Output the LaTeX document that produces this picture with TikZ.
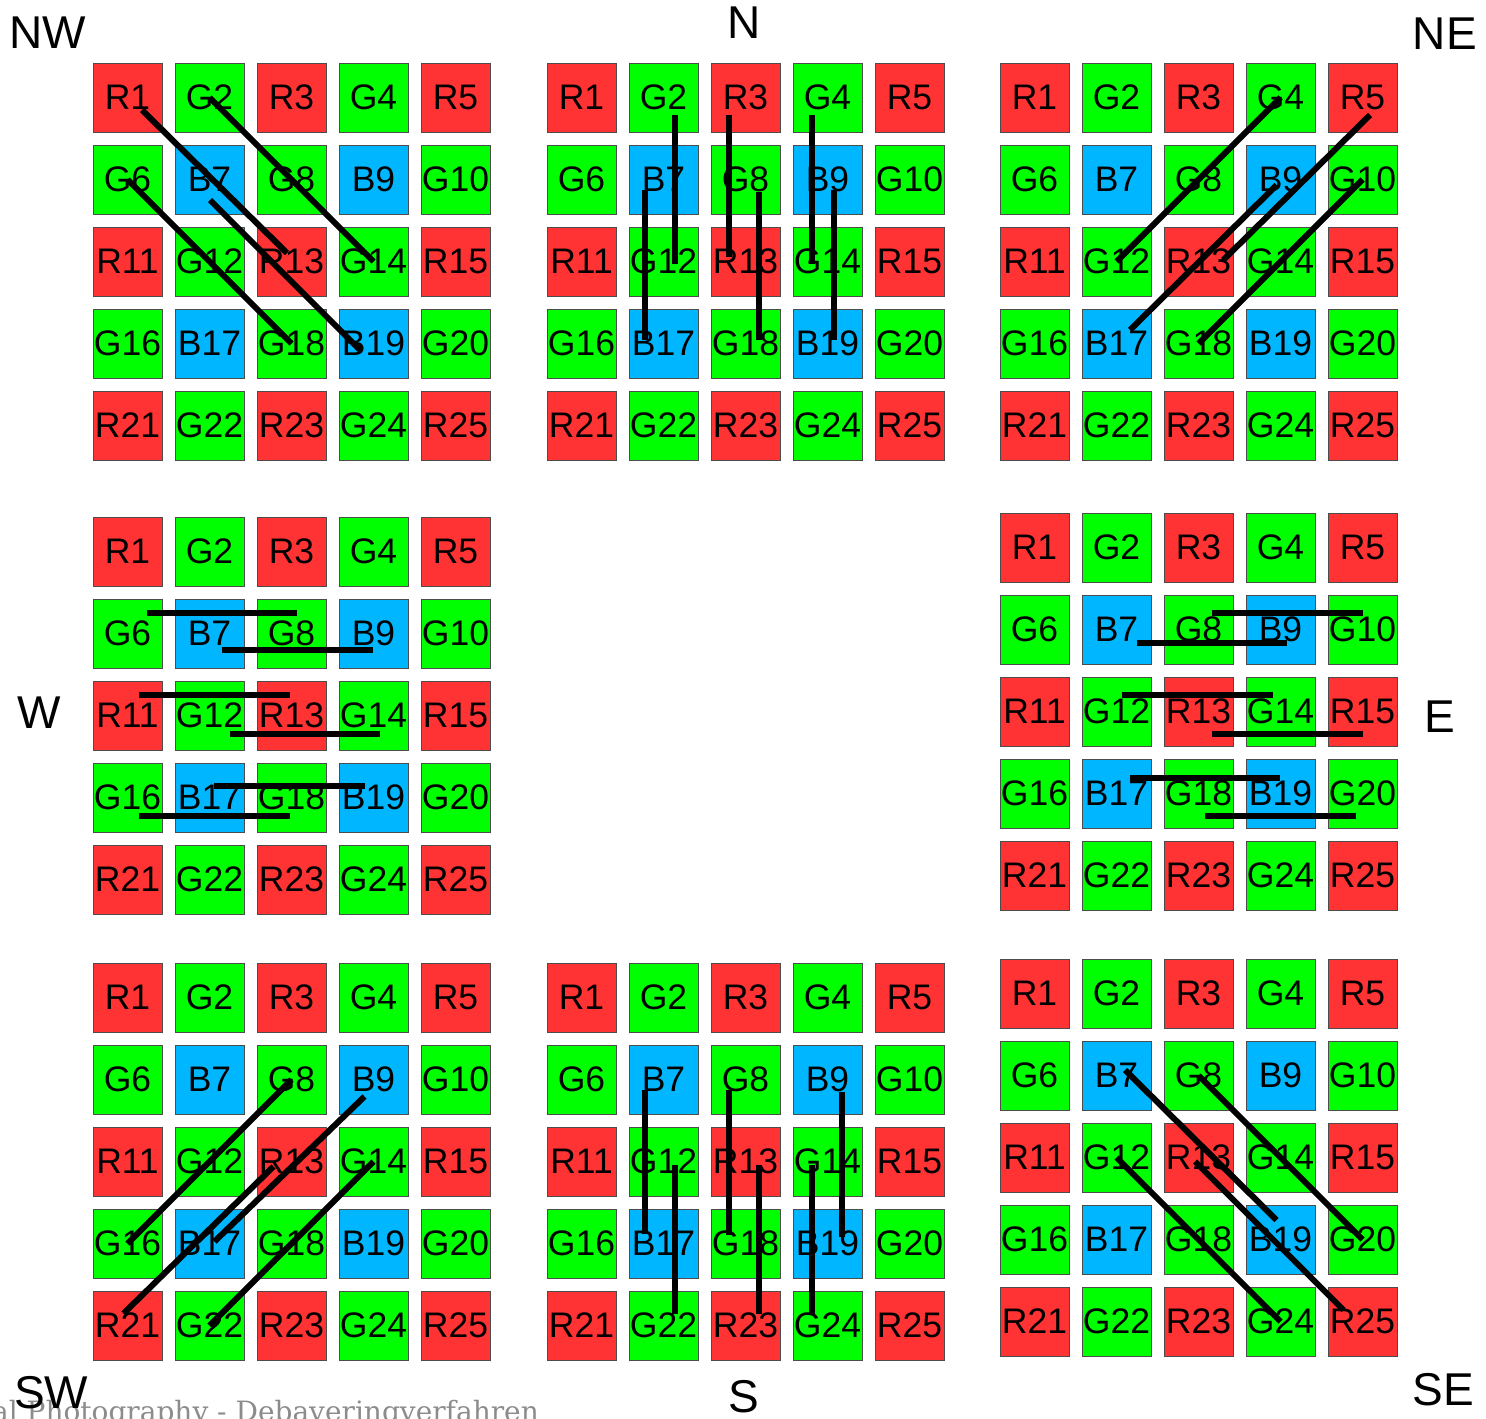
\documentclass[tikz,border=0pt]{standalone}
\usepackage{fontspec}
\setmainfont{Liberation Sans}
\newfontfamily\footfont{DejaVu Serif}
\definecolor{cR}{HTML}{FF3333}
\definecolor{cG}{HTML}{00FF00}
\definecolor{cB}{HTML}{00B7FF}
\definecolor{footgray}{HTML}{8C8C8C}
\tikzset{
  cell/.style={draw=black!70, line width=0.8pt, minimum size=69pt, inner sep=0pt,
    font=\fontsize{35.5}{40}\selectfont},
  ln/.style={line width=6pt, black},
  dirlbl/.style={inner sep=0pt, font=\fontsize{46}{52}\selectfont},
}
% #1 name prefix, #2 x origin, #3 y origin (pixels, y downwards)
\newcommand\bayergrid[3]{%
  \foreach \k in {1,...,25}{%
    \pgfmathtruncatemacro\brow{(\k-1)/5}%
    \pgfmathtruncatemacro\bcolm{mod(\k-1,5)}%
    \pgfmathtruncatemacro\bsum{mod(\brow,2)+mod(\bcolm,2)}%
    \ifcase\bsum \def\bfill{cR}\def\blet{R}\or \def\bfill{cG}\def\blet{G}\or \def\bfill{cB}\def\blet{B}\fi
    \node[cell, fill=\bfill] (#1\k) at (#2+34.5+82*\bcolm, #3+34.5+82*\brow) {\blet\k};
  }%
}
\begin{document}
\begin{tikzpicture}[x=1pt,y=-1pt]
\useasboundingbox (0,0) rectangle (1486,1419);
\fill[white] (0,0) rectangle (1486,1419);

% footer text (cut at the page edges)
\node[anchor=base west, inner sep=0pt, text=footgray, font=\footfont\fontsize{28}{33}\selectfont] (foot) at (-8,1421) {al Photography - Debayeringverfahren};

% grids
\bayergrid{nw}{93}{63}
\bayergrid{n}{547}{63}
\bayergrid{ne}{1000}{63}
\bayergrid{w}{93}{517}
\bayergrid{e}{1000}{513}
\bayergrid{sw}{93}{963}
\bayergrid{s}{547}{963}
\bayergrid{se}{1000}{959}

% direction labels
\node[dirlbl, anchor=base west] (lNW) at (9,48) {NW};
\node[dirlbl, anchor=base] (lN) at (744,38) {N};
\node[dirlbl, anchor=base east] (lNE) at (1477,49) {NE};
\node[dirlbl, anchor=base] (lW) at (39.5,728) {W};
\node[dirlbl, anchor=base] (lE) at (1440,732) {E};
\node[dirlbl, anchor=base west] (lSW) at (14,1408) {SW};
\node[dirlbl, anchor=base] (lS) at (744,1412) {S};
\node[dirlbl, anchor=base east] (lSE) at (1474,1405) {SE};

% NW
\draw[ln] ([shift={(14.5,12.5)}]nw1.center) -- ([shift={(-4.5,-8.5)}]nw13.center);
\draw[ln] ([shift={(0.5,20.5)}]nw7.center) -- ([shift={(-13.5,6.5)}]nw19.center);
\draw[ln] (nw2.center) -- (nw8.center) -- (nw14.center);
\draw[ln] (nw6.center) -- (nw12.center) -- (nw18.center);

% N
\draw[ln] ([shift={(11.5,17)}]n2.center) -- ([shift={(11.5,2)}]n12.center);
\draw[ln] ([shift={(-18.5,10.5)}]n7.center) -- ([shift={(-18.5,-3.5)}]n17.center);
\draw[ln] ([shift={(-17,17)}]n3.center) -- ([shift={(-17,-5)}]n13.center);
\draw[ln] ([shift={(13,12)}]n8.center) -- ([shift={(13,-3.5)}]n18.center);
\draw[ln] ([shift={(-16,17)}]n4.center) -- ([shift={(-16,2)}]n14.center);
\draw[ln] ([shift={(6.5,10.5)}]n9.center) -- ([shift={(6.5,-3.5)}]n19.center);

% NE
\draw[ln] (ne4.center) -- (ne8.center) -- (ne12.center);
\draw[ln] ([shift={(7.5,17.5)}]ne5.center) -- ([shift={(24.8,-1.5)}]ne13.center);
\draw[ln] ([shift={(-3.8,5.5)}]ne9.center) -- ([shift={(13.5,-13.5)}]ne17.center);
\draw[ln] (ne10.center) -- (ne14.center) -- (ne18.center);

% W
\draw[ln] ([shift={(19,-21)}]w6.center) -- ([shift={(5,-21)}]w8.center);
\draw[ln] ([shift={(12,16.5)}]w7.center) -- ([shift={(-1,16.5)}]w9.center);
\draw[ln] ([shift={(11,-20.5)}]w11.center) -- ([shift={(-2,-20.5)}]w13.center);
\draw[ln] ([shift={(20,18)}]w12.center) -- ([shift={(6.5,18)}]w14.center);
\draw[ln] ([shift={(4,-11.5)}]w17.center) -- ([shift={(-9,-11.5)}]w19.center);
\draw[ln] ([shift={(11,18.5)}]w16.center) -- ([shift={(-2,18.5)}]w18.center);

% E
\draw[ln] ([shift={(13,-17)}]e8.center) -- ([shift={(0,-17)}]e10.center);
\draw[ln] ([shift={(20,13)}]e7.center) -- ([shift={(6,13)}]e9.center);
\draw[ln] ([shift={(5,-17)}]e12.center) -- ([shift={(-8,-17)}]e14.center);
\draw[ln] ([shift={(13,22)}]e13.center) -- ([shift={(0,22)}]e15.center);
\draw[ln] ([shift={(13,-16)}]e17.center) -- ([shift={(-1,-16)}]e19.center);
\draw[ln] ([shift={(6.5,22.5)}]e18.center) -- ([shift={(-6.5,22.5)}]e20.center);

% SW
\draw[ln] (sw8.center) -- (sw12.center) -- (sw16.center);
\draw[ln] ([shift={(-9,17)}]sw9.center) -- ([shift={(5,-2)}]sw17.center);
\draw[ln] ([shift={(-18,5)}]sw13.center) -- ([shift={(-4,-12)}]sw21.center);
\draw[ln] (sw14.center) -- (sw18.center) -- (sw22.center);

% S
\draw[ln] ([shift={(-18.5,10.5)}]s7.center) -- ([shift={(-18.5,-10)}]s17.center);
\draw[ln] ([shift={(11.5,3.5)}]s12.center) -- ([shift={(11.5,-12)}]s22.center);
\draw[ln] ([shift={(-17,10.5)}]s8.center) -- ([shift={(-17,-8.5)}]s18.center);
\draw[ln] ([shift={(13,3.5)}]s13.center) -- ([shift={(13,-12)}]s23.center);
\draw[ln] ([shift={(14,12)}]s9.center) -- ([shift={(14,-7)}]s19.center);
\draw[ln] ([shift={(-16,3.5)}]s14.center) -- ([shift={(-16,-12)}]s24.center);

% SE
\draw[ln] ([shift={(8.5,-5.5)}]se7.center) -- ([shift={(-4,-19.5)}]se19.center);
\draw[ln] (se8.center) -- (se14.center) -- (se20.center);
\draw[ln] (se12.center) -- (se18.center) -- (se24.center);
\draw[ln] ([shift={(-3.5,4)}]se13.center) -- ([shift={(-19,-11.5)}]se25.center);
\end{tikzpicture}
\end{document}
